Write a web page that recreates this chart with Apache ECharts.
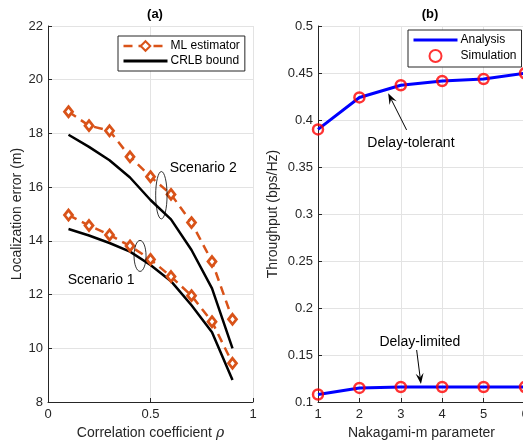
<!DOCTYPE html>
<html>
<head>
<meta charset="utf-8">
<script src="https://cdn.jsdelivr.net/npm/echarts@6/dist/echarts.min.js"></script>
<style>
  html, body { margin: 0; padding: 0; background: #fff; }
  #chart { width: 523px; height: 443px; }
</style>
</head>
<body>
<div id="chart"></div>
<script>
// panel (a)
const rho = [0.1, 0.2, 0.3, 0.4, 0.5, 0.6, 0.7, 0.8, 0.9]
const mlScenario1 = [14.96, 14.57, 14.22, 13.81, 13.31, 12.67, 11.96, 10.99, 9.44]
const mlScenario2 = [18.81, 18.29, 18.10, 17.13, 16.39, 15.73, 14.68, 13.23, 11.08]
const crlbScenario1 = [14.44, 14.2, 13.92, 13.6, 13.1, 12.5, 11.6, 10.6, 8.82]
const crlbScenario2 = [17.95, 17.5, 17.0, 16.36, 15.52, 14.8, 13.66, 12.23, 10.0]

// panel (b)
const nakagamiM = [1, 2, 3, 4, 5, 6]
const delayTolerant = [0.390, 0.424, 0.437, 0.4415, 0.4436, 0.4497]
const delayLimited = [0.108, 0.115, 0.116, 0.116, 0.116, 0.116]

const ORANGE = '#D95319'
const AXIS = '#262626'
const GRID = '#e3e3e3'
const FONT = 'Liberation Sans'

const pairs = (xs, ys) => xs.map((x, i) => [x, ys[i]])

const chart = echarts.init(document.getElementById('chart'))

const axisCommon = {
  axisLine: { show: true, onZero: false, lineStyle: { color: AXIS, width: 1 } },
  axisTick: { show: true, inside: true, length: 4, lineStyle: { color: AXIS } },
  axisLabel: { color: AXIS, fontSize: 13, fontFamily: FONT },
  splitLine: { show: true, lineStyle: { color: GRID, width: 1 } },
  nameTextStyle: { color: AXIS, fontSize: 14, fontFamily: FONT }
}

const mlSeries = (data) => ({
  name: 'ML estimator',
  type: 'line',
  xAxisIndex: 0,
  yAxisIndex: 0,
  data: data,
  symbol: 'diamond',
  symbolSize: [8, 10],
  lineStyle: { color: ORANGE, width: 2.5, type: [9, 6] },
  itemStyle: { color: '#fff', borderColor: ORANGE, borderWidth: 2.8 },
  z: 3
})

const crlbSeries = (data) => ({
  name: 'CRLB bound',
  type: 'line',
  xAxisIndex: 0,
  yAxisIndex: 0,
  data: data,
  showSymbol: false,
  symbol: 'none',
  lineStyle: { color: '#000', width: 2.5 },
  itemStyle: { color: '#000' },
  z: 2
})

const analysisSeries = (data) => ({
  name: 'Analysis',
  type: 'line',
  xAxisIndex: 1,
  yAxisIndex: 1,
  data: data,
  showSymbol: false,
  symbol: 'none',
  lineStyle: { color: '#0000ff', width: 3 },
  itemStyle: { color: '#0000ff' },
  z: 2
})

const simSeries = (data) => ({
  name: 'Simulation',
  type: 'scatter',
  xAxisIndex: 1,
  yAxisIndex: 1,
  data: data,
  symbol: 'circle',
  symbolSize: 10,
  itemStyle: { color: 'rgba(0,0,0,0)', borderColor: '#ff0000', borderWidth: 2.5 },
  z: 3
})

const legendCommon = {
  orient: 'vertical',
  itemWidth: 44, itemHeight: 12, itemGap: 3,
  padding: [4, 5, 4, 4],
  backgroundColor: '#fff',
  borderColor: AXIS, borderWidth: 1,
  textStyle: { fontSize: 12, color: '#000', fontFamily: FONT, padding: [0, 0, 0, -2] }
}

const option = {
  animation: false,
  backgroundColor: '#fff',
  title: [
    { text: '(a)', left: 150, top: 3, textAlign: 'center',
      textStyle: { fontSize: 13, fontWeight: 'bold', color: '#000', fontFamily: FONT } },
    { text: '(b)', left: 425, top: 3, textAlign: 'center',
      textStyle: { fontSize: 13, fontWeight: 'bold', color: '#000', fontFamily: FONT } }
  ],
  legend: [
    Object.assign({}, legendCommon, {
      left: 118, top: 36,
      data: [
        { name: 'ML estimator', lineStyle: { width: 2.5 } },
        { name: 'CRLB bound', itemStyle: { opacity: 0 }, lineStyle: { width: 3 } }
      ]
    }),
    Object.assign({}, legendCommon, {
      left: 408, top: 30,
      data: [
        { name: 'Analysis', itemStyle: { opacity: 0 }, lineStyle: { width: 3 } },
        'Simulation'
      ]
    })
  ],
  grid: [
    { left: 48, right: 270, top: 26, bottom: 41, containLabel: false, outerBoundsMode: 'none' },
    { left: 318, right: -2, top: 26, bottom: 41, containLabel: false, outerBoundsMode: 'none' }
  ],
  xAxis: [
    Object.assign({}, axisCommon, {
      gridIndex: 0, type: 'value', min: 0, max: 1, interval: 0.5,
      name: '{n|Correlation coefficient }{i|ρ}', nameLocation: 'middle', nameGap: 24,
      nameTextStyle: Object.assign({}, axisCommon.nameTextStyle, {
        rich: {
          n: { color: AXIS, fontSize: 14, fontFamily: FONT },
          i: { color: AXIS, fontSize: 14, fontFamily: 'DejaVu Serif', fontStyle: 'italic' }
        }
      }),
      axisLabel: Object.assign({}, axisCommon.axisLabel, { margin: 6 })
    }),
    Object.assign({}, axisCommon, {
      gridIndex: 1, type: 'value', min: 1, max: 6, interval: 1,
      name: 'Nakagami-m parameter', nameLocation: 'middle', nameGap: 24,
      axisLabel: Object.assign({}, axisCommon.axisLabel, { margin: 6 })
    })
  ],
  yAxis: [
    Object.assign({}, axisCommon, {
      gridIndex: 0, type: 'value', min: 8, max: 22, interval: 2,
      name: 'Localization error (m)', nameLocation: 'middle', nameGap: 23,
      axisLabel: Object.assign({}, axisCommon.axisLabel, { margin: 5 })
    }),
    Object.assign({}, axisCommon, {
      gridIndex: 1, type: 'value', min: 0.1, max: 0.5, interval: 0.05,
      name: 'Throughput (bps/Hz)', nameLocation: 'middle', nameGap: 38,
      axisLabel: Object.assign({}, axisCommon.axisLabel, { margin: 5 })
    })
  ],
  series: [
    crlbSeries(pairs(rho, crlbScenario1)),
    crlbSeries(pairs(rho, crlbScenario2)),
    mlSeries(pairs(rho, mlScenario1)),
    mlSeries(pairs(rho, mlScenario2)),
    analysisSeries(pairs(nakagamiM, delayTolerant)),
    analysisSeries(pairs(nakagamiM, delayLimited)),
    simSeries(pairs(nakagamiM, delayTolerant)),
    simSeries(pairs(nakagamiM, delayLimited))
  ]
}

chart.setOption(option)

// annotations placed in data coordinates
const toPx = (grid, pt) => chart.convertToPixel({ gridIndex: grid }, pt)

const ellipse = (grid, pt, rx, ry) => {
  const p = toPx(grid, pt)
  return { type: 'ellipse', shape: { cx: p[0], cy: p[1], rx: rx, ry: ry },
    style: { fill: null, stroke: '#000', lineWidth: 0.8 }, z: 10 }
}

const label = (grid, pt, text, align) => {
  const p = toPx(grid, pt)
  return { type: 'text', x: p[0], y: p[1],
    style: { text: text, fill: '#000', font: '14px "Liberation Sans"',
      align: align || 'left', verticalAlign: 'middle' }, z: 10 }
}

const arrow = (grid, from, to) => {
  const a = toPx(grid, from)
  const b = toPx(grid, to)
  const ang = Math.atan2(b[1] - a[1], b[0] - a[0])
  const len = 11, half = 4
  const bx = b[0] - len * Math.cos(ang), by = b[1] - len * Math.sin(ang)
  const nx = -Math.sin(ang) * half, ny = Math.cos(ang) * half
  const ix = b[0] - len * 0.6 * Math.cos(ang), iy = b[1] - len * 0.6 * Math.sin(ang)
  return [
    { type: 'line', shape: { x1: a[0], y1: a[1], x2: ix, y2: iy },
      style: { stroke: '#000', lineWidth: 1 }, z: 10 },
    { type: 'polygon', shape: { points: [[b[0], b[1]], [bx + nx, by + ny], [ix, iy], [bx - nx, by - ny]] },
      style: { fill: '#000' }, z: 10 }
  ]
}

chart.setOption({
  graphic: [
    ellipse(0, [0.553, 15.70], 5.7, 23.7),
    label(0, [0.594, 16.71], 'Scenario 2'),
    ellipse(0, [0.449, 13.44], 6, 15.5),
    label(0, [0.096, 12.52], 'Scenario 1'),
    label(1, [3.245, 0.3759], 'Delay-tolerant', 'center'),
    ...arrow(1, [3.14, 0.3894], [2.695, 0.4284]),
    label(1, [3.462, 0.1642], 'Delay-limited', 'center'),
    ...arrow(1, [3.383, 0.1553], [3.487, 0.1191])
  ]
})
</script>
</body>
</html>
